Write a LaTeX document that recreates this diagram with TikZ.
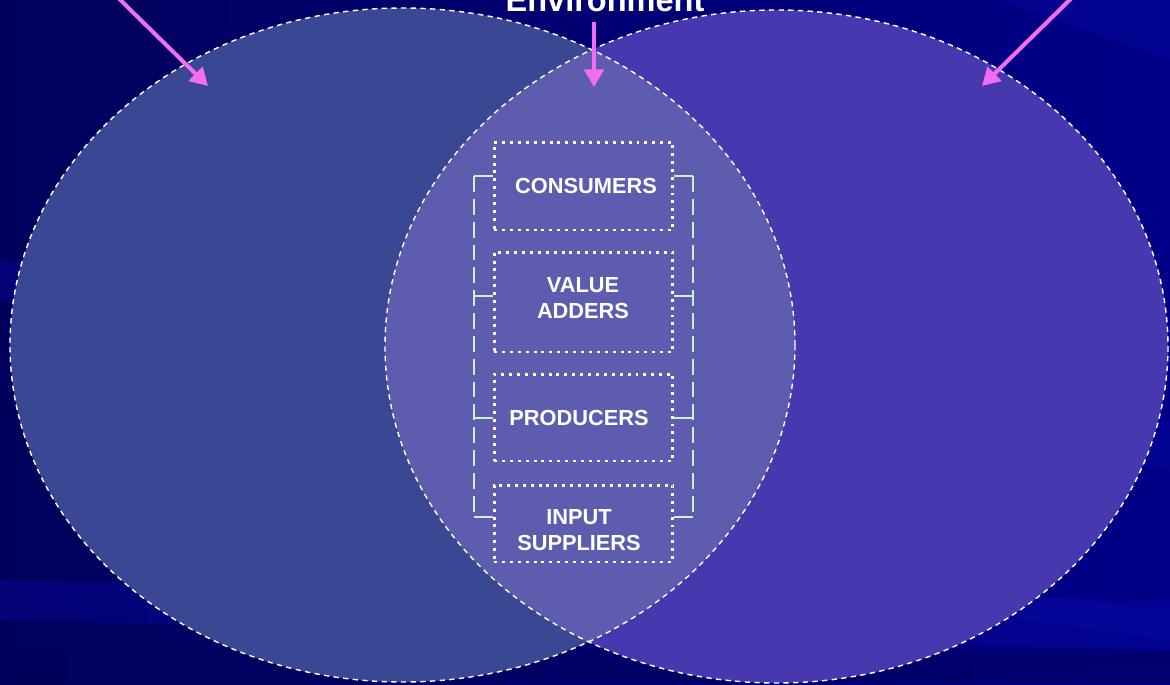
\documentclass[tikz,border=0pt]{standalone}
\usepackage{fontspec}
\setmainfont{Liberation Sans}
\usetikzlibrary{arrows.meta,calc}
\definecolor{bgdark}{HTML}{00005C}
\definecolor{bgmid}{HTML}{000088}
\definecolor{bglight}{HTML}{0A0AA8}
\definecolor{leftfill}{HTML}{3A4894}
\definecolor{rightfill}{HTML}{4838B0}
\definecolor{midfill}{HTML}{5E5CAE}
\definecolor{pinkarrow}{HTML}{F46CF4}
\definecolor{bracketgreen}{HTML}{C6F2D6}
\tikzset{
  vennline/.style={draw=white, line width=0.8pt, dash pattern=on 3pt off 2.5pt},
  dotbox/.style={draw=white, line width=1.7pt, dash pattern=on 1.7pt off 2.8pt,
    minimum width=3.58cm, inner sep=0pt},
  boxtext/.style={align=center, text=white, font=\bfseries\fontsize{12.4}{14.7}\selectfont, inner sep=0pt},
  pointer/.style={draw=pinkarrow, line width=2.3pt, -{Triangle[length=10pt,width=11pt]}},
  bracketline/.style={draw=bracketgreen, line width=1.5pt, dash pattern=on 9pt off 4pt},
  tick/.style={draw=bracketgreen, line width=1.5pt},
  streak/.style={fill=bglight, fill opacity=0.35}
}
\begin{document}
\begin{tikzpicture}[x=0.02cm, y=-0.02cm]
\useasboundingbox (0,0) rectangle (1170,684);
\clip (0,0) rectangle (1170,684);
% background
\shade[left color=bgdark, right color=bgmid] (0,0) rectangle (1170,684);
\fill[streak] (0,260) -- (1170,420) -- (1170,470) -- (0,300) -- cycle;
\fill[streak] (0,580) -- (1170,600) -- (1170,650) -- (0,620) -- cycle;
\fill[streak] (1000,0) -- (1170,0) -- (1170,60) -- cycle;
\fill[streak] (700,560) -- (1170,610) -- (1170,640) -- (700,575) -- cycle;
\fill[bgdark, fill opacity=0.5] (0,650) rectangle (1170,684);
% ellipses
\fill[leftfill] (402.5,345) ellipse [x radius=392.5, y radius=337];
\fill[rightfill] (776.5,346.5) ellipse [x radius=391.5, y radius=336.5];
\begin{scope}
  \clip (402.5,345) ellipse [x radius=392.5, y radius=337];
  \fill[midfill] (776.5,346.5) ellipse [x radius=391.5, y radius=336.5];
\end{scope}
\path[vennline] (402.5,345) ellipse [x radius=392.5, y radius=337];
\path[vennline] (776.5,346.5) ellipse [x radius=391.5, y radius=336.5];
% title (cut off at top, as in the reference)
\node[anchor=base, text=white, font=\bfseries\fontsize{18.5}{20}\selectfont, inner sep=0pt] (env) at (605,11) {Environment};
% arrows
\coordinate (a1s) at (100,-20);
\coordinate (a1e) at (208,86);
\coordinate (a2s) at (594,22);
\coordinate (a2e) at (594,87);
\coordinate (a3s) at (1090,-20);
\coordinate (a3e) at (982,86);
\draw[pointer] (a1s) -- (a1e);
\draw[pointer] (a2s) -- (a2e);
\draw[pointer] (a3s) -- (a3e);
% boxes
\node[dotbox, minimum height=1.76cm] (cons) at (583.5,186) {};
\node[dotbox, minimum height=2cm] (va) at (583.5,302) {};
\node[dotbox, minimum height=1.74cm] (prod) at (583.5,417.5) {};
\node[dotbox, minimum height=1.54cm] (inp) at (583.5,523.5) {};
\node[boxtext] (consT) at (586,186) {CONSUMERS};
\node[boxtext] (vaT) at (583,298) {VALUE\\ADDERS};
\node[boxtext] (prodT) at (579,418) {PRODUCERS};
\node[boxtext] (inpT) at (579,530) {INPUT\\SUPPLIERS};
% brackets
\coordinate (l1) at (474,176);
\coordinate (l2) at (474,296);
\coordinate (l3) at (474,418);
\coordinate (l4) at (474,517);
\coordinate (r1) at (693,176);
\coordinate (r2) at (693,296);
\coordinate (r3) at (693,418);
\coordinate (r4) at (693,517);
\path[bracketline] (l1) -- (l4);
\path[bracketline] (r1) -- (r4);
\path[tick] (cons.west |- l1) -- (l1);
\path[tick] (va.west |- l2) -- (l2);
\path[tick] (prod.west |- l3) -- (l3);
\path[tick] (inp.west |- l4) -- (l4);
\path[tick] (cons.east |- r1) -- (r1);
\path[tick] (va.east |- r2) -- (r2);
\path[tick] (prod.east |- r3) -- (r3);
\path[tick] (inp.east |- r4) -- (r4);
\end{tikzpicture}
\end{document}
